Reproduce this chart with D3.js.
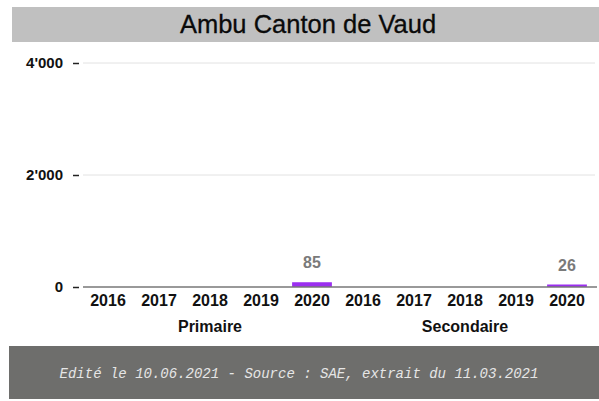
<!DOCTYPE html>
<html>
<head>
<meta charset="utf-8">
<script src="https://cdn.jsdelivr.net/npm/d3@7"></script>
<style>
  body { margin: 0; background: #fff; }
  svg { display: block; }
</style>
</head>
<body>
<svg id="chart"></svg>
<script>
// data
const years = ["2016", "2017", "2018", "2019", "2020"];
const groups = ["Primaire", "Secondaire"];
const primaire = [0, 0, 0, 0, 85];
const secondaire = [0, 0, 0, 0, 26];
const yTicks = [0, 2000, 4000];

const width = 599;
const height = 401;
const font = "Liberation Sans, Arial, sans-serif";

const svg = d3.select("#chart").attr("width", width).attr("height", height);

// flatten into one row per bar
const rows = [];
groups.forEach((g, gi) => {
  const vals = gi === 0 ? primaire : secondaire;
  years.forEach((y, i) => rows.push({ key: g + "-" + y, group: g, year: y, value: vals[i] }));
});

const x = d3.scaleBand()
  .domain(rows.map(d => d.key))
  .range([82.5, 592.5])
  .paddingInner(0.22)
  .paddingOuter(0.11);

const y = d3.scaleLinear().domain([0, 4000]).range([287, 63]);

// title band
svg.append("rect")
  .attr("x", 12).attr("y", 7)
  .attr("width", width - 12).attr("height", 35)
  .attr("fill", "#c0c0c0");
svg.append("text")
  .attr("x", 308).attr("y", 33)
  .attr("text-anchor", "middle")
  .attr("font-family", font)
  .attr("font-size", "25.5px")
  .attr("fill", "#0a0a0a")
  .attr("stroke", "#0a0a0a")
  .attr("stroke-width", 0.3)
  .text("Ambu Canton de Vaud");

// gridlines
svg.append("g")
  .selectAll("line")
  .data(yTicks.filter(t => t > 0))
  .join("line")
  .attr("x1", 83).attr("x2", 595)
  .attr("y1", d => y(d)).attr("y2", d => y(d))
  .attr("stroke", "#e2e2e2")
  .attr("stroke-width", 1);

// y axis: labels + short dashes, no domain line
const yAxis = svg.append("g")
  .attr("transform", "translate(79,0)")
  .call(d3.axisLeft(y).tickValues(yTicks).tickSize(6).tickPadding(10)
    .tickFormat(d => d3.format(",")(d).replace(/,/g, "'")));
yAxis.select(".domain").remove();
yAxis.selectAll(".tick line").attr("stroke", "#222").attr("stroke-width", 1.5);
yAxis.selectAll("text")
  .attr("font-family", font)
  .attr("font-size", "15px")
  .attr("font-weight", "bold")
  .attr("fill", "#111");

// bars
svg.append("g")
  .selectAll("rect")
  .data(rows.filter(d => d.value > 0))
  .join("rect")
  .attr("x", d => x(d.key))
  .attr("width", x.bandwidth())
  .attr("y", d => Math.min(y(d.value), y(0) - 2.5))
  .attr("height", d => Math.max(y(0) - y(d.value), 2.5))
  .attr("fill", "#9b2ff0");

// value labels
svg.append("g")
  .selectAll("text")
  .data(rows.filter(d => d.value > 0))
  .join("text")
  .attr("x", d => x(d.key) + x.bandwidth() / 2)
  .attr("y", d => Math.min(y(d.value), y(0) - 2.5) - 14)
  .attr("text-anchor", "middle")
  .attr("font-family", font)
  .attr("font-size", "16px")
  .attr("font-weight", "bold")
  .attr("fill", "#7a7a7a")
  .text(d => d.value);

// baseline
svg.append("line")
  .attr("x1", 83).attr("x2", 597)
  .attr("y1", y(0)).attr("y2", y(0))
  .attr("stroke", "#777")
  .attr("stroke-width", 1.5);

// x axis year labels
svg.append("g")
  .selectAll("text")
  .data(rows)
  .join("text")
  .attr("x", d => x(d.key) + x.bandwidth() / 2)
  .attr("y", 306)
  .attr("text-anchor", "middle")
  .attr("font-family", font)
  .attr("font-size", "16px")
  .attr("font-weight", "bold")
  .attr("fill", "#111")
  .text(d => d.year);

// group labels
svg.append("g")
  .selectAll("text")
  .data(groups)
  .join("text")
  .attr("x", g => {
    const keys = years.map(yr => g + "-" + yr);
    return (x(keys[0]) + x(keys[keys.length - 1]) + x.bandwidth()) / 2;
  })
  .attr("y", 332)
  .attr("text-anchor", "middle")
  .attr("font-family", font)
  .attr("font-size", "16px")
  .attr("font-weight", "bold")
  .attr("fill", "#111")
  .text(g => g);

// footer band
svg.append("rect")
  .attr("x", 9).attr("y", 346)
  .attr("width", width - 9).attr("height", 53)
  .attr("fill", "#6e6e6c");
svg.append("text")
  .attr("x", 299).attr("y", 378)
  .attr("text-anchor", "middle")
  .attr("font-family", "Liberation Mono, DejaVu Sans Mono, monospace")
  .attr("font-style", "italic")
  .attr("font-size", "14px")
  .attr("fill", "#e6e6e6")
  .text("Edité le 10.06.2021 - Source : SAE, extrait du 11.03.2021");
</script>
</body>
</html>
